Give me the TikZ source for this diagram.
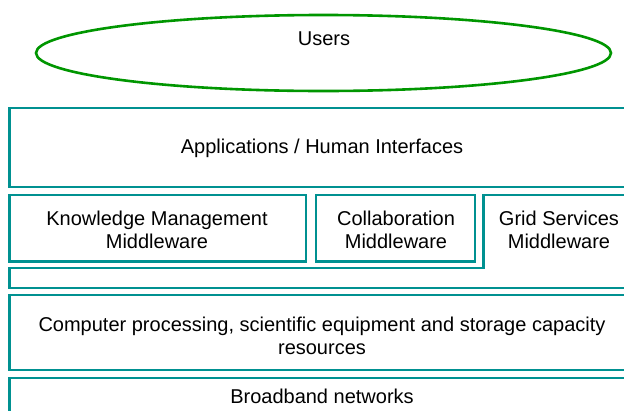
\documentclass[tikz,border=0pt]{standalone}
\usepackage{fontspec}
\setmainfont{Liberation Sans}
\definecolor{teal1}{RGB}{0,145,145}
\definecolor{green1}{RGB}{0,150,0}
\tikzset{
  layerbox/.style={draw=teal1, line width=2.4pt, fill=white},
  userell/.style={draw=green1, line width=2.6pt},
  lbl/.style={align=center, inner sep=0pt, font=\fontsize{20}{23}\selectfont}
}
\begin{document}
\begin{tikzpicture}[x=1pt,y=-1pt]
\useasboundingbox (0,0) rectangle (624,410);
\clip (0,0) rectangle (624,410);
\fill[white] (0,0) rectangle (624,410);
% Users
\draw[userell] (323.5,53) ellipse [x radius=287.5, y radius=38];
\node[lbl] (users) at (324,39) {Users};
% Applications
\draw[layerbox] (9.5,108) rectangle (636,187);
\node[lbl] (apps) at (322,148) {Applications / Human Interfaces};
% Knowledge
\draw[layerbox] (9.5,195) rectangle (306,261.5);
\node[lbl] (km) at (157,229.5) {Knowledge Management\\Middleware};
% Collaboration
\draw[layerbox] (316,195) rectangle (475,261.5);
\node[lbl] (collab) at (396,229.5) {Collaboration\\Middleware};
% Grid services (L-shape)
\draw[layerbox] (483.5,195) -- (483.5,268) -- (9.5,268) -- (9.5,288) -- (636,288) -- (636,195) -- cycle;
\node[lbl] (grid) at (559,229.5) {Grid Services\\Middleware};
% Computer resources
\draw[layerbox] (9.5,295) rectangle (636,370);
\node[lbl] (comp) at (322,336) {Computer processing, scientific equipment and storage capacity\\resources};
% Broadband
\draw[layerbox] (9.5,378) rectangle (636,430);
\node[lbl] (bb) at (322,396) {Broadband networks};
\end{tikzpicture}
\end{document}
